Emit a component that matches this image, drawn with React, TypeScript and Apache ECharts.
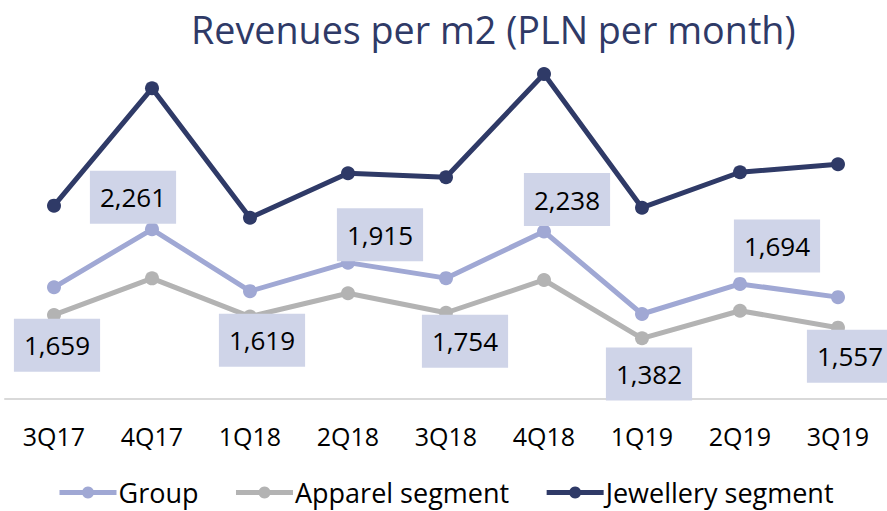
import React, { useEffect, useRef } from "react";
import * as echarts from "echarts";

const categories = ["3Q17", "4Q17", "1Q18", "2Q18", "3Q18", "4Q18", "1Q19", "2Q19", "3Q19"];
const groupValues = [1659, 2261, 1619, 1915, 1754, 2238, 1382, 1694, 1557];
const apparelValues = [1372, 1752, 1355, 1597, 1395, 1735, 1130, 1416, 1240];
const jewelleryValues = [2506, 3724, 2381, 2842, 2801, 3873, 2485, 2853, 2936];

// label box offsets (px) relative to each Group point
const labelOffsets: [number, number][] = [
  [3, 58], [-19, -32], [12, 49], [32, -28], [19, 63], [23, -32], [7, 60], [37, -38], [12, 59],
];

const FONT = "'Segoe UI', 'Open Sans', sans-serif";
const NAVY = "#2f3a67";
const LAVENDER = "#a0a8d4";
const GREY = "#b3b3b3";

export default function App() {
  const ref = useRef<HTMLDivElement>(null);
  useEffect(() => {
    if (!ref.current) return;
    const chart = echarts.init(ref.current, null, { renderer: "svg" });
    const fmt = (v: number) => v.toLocaleString("en-US");
    chart.setOption({
      animation: false,
      backgroundColor: "#ffffff",
      textStyle: { fontFamily: FONT },
      title: {
        text: "Revenues per m2 (PLN per month)",
        left: 186,
        top: 5,
        textStyle: { color: NAVY, fontSize: 37.7, fontWeight: "normal", fontFamily: FONT },
      },
      legend: {
        bottom: 0,
        left: 52,
        itemWidth: 57,
        itemHeight: 15,
        itemGap: 35,
        lineStyle: { width: 5 },
        textStyle: { fontSize: 27, color: "#000", fontFamily: FONT, padding: [0, 0, 0, -3] },
        data: ["Group", "Apparel segment", "Jewellery segment"],
      },
      grid: { left: 5, right: 0, top: 61.7, bottom: 112 },
      xAxis: {
        type: "category",
        data: categories,
        boundaryGap: true,
        axisLine: { show: true, lineStyle: { color: "#d9d9d9", width: 2 } },
        axisTick: { show: false },
        axisLabel: { fontSize: 25, color: "#000", margin: 24, fontFamily: FONT },
      },
      yAxis: {
        type: "value",
        min: 500,
        max: 4000,
        show: false,
        splitLine: { show: false },
      },
      series: [
        {
          name: "Group",
          type: "line",
          data: groupValues.map((v, i) => ({
            value: v,
            label: { offset: labelOffsets[i] },
          })),
          symbol: "circle",
          symbolSize: 14,
          lineStyle: { color: LAVENDER, width: 5 },
          itemStyle: { color: LAVENDER },
          z: 3,
          label: {
            show: true,
            position: "inside",
            formatter: (p: any) => fmt(p.value),
            fontSize: 26,
            color: "#000",
            fontFamily: FONT,
            backgroundColor: "#cfd4e8",
            padding: [11, 10],
            lineHeight: 31,
          },
        },
        {
          name: "Apparel segment",
          type: "line",
          data: apparelValues,
          symbol: "circle",
          symbolSize: 14,
          lineStyle: { color: GREY, width: 5 },
          itemStyle: { color: GREY },
          z: 2,
        },
        {
          name: "Jewellery segment",
          type: "line",
          data: jewelleryValues,
          symbol: "circle",
          symbolSize: 14,
          lineStyle: { color: NAVY, width: 5 },
          itemStyle: { color: NAVY },
          z: 2,
        },
      ],
    });
    return () => chart.dispose();
  }, []);
  return (
    <div
      ref={ref}
      style={{ position: "fixed", left: 0, top: 0, width: 887, height: 511 }}
    />
  );
}
